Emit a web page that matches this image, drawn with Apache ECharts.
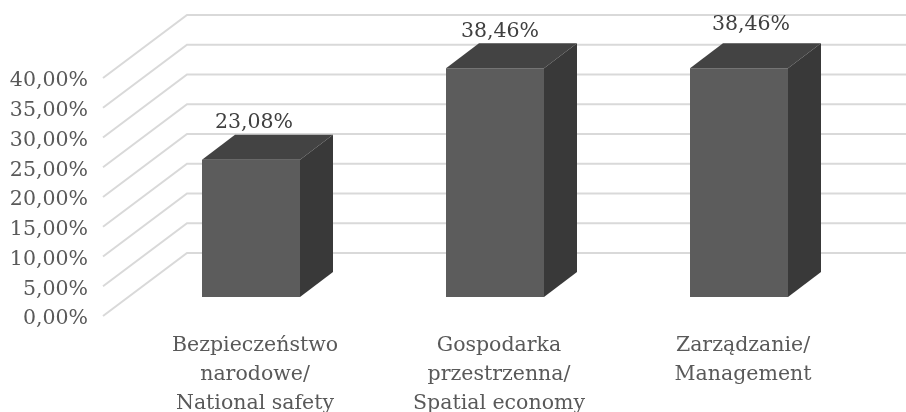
<!DOCTYPE html>
<html><head><meta charset="utf-8">
<style>html,body{margin:0;padding:0;background:#fff}#c{width:906px;height:412px}</style>
<script src="https://cdn.jsdelivr.net/npm/echarts@6/dist/echarts.min.js"></script>
</head><body><div id="c"></div>
<script>
const categories = ['Bezpieczeństwo\nnarodowe/\nNational safety','Gospodarka\nprzestrzenna/\nSpatial economy','Zarządzanie/\nManagement'];
const values = [23.08, 38.46, 38.46];
const valueLabels = ['23,08%','38,46%','38,46%'];
const yTicks = [0,5,10,15,20,25,30,35,40];
const labelNudgeY = [2, 3, -4];
const labelNudgeX = [3, 5, 12];

const FONT = '"DejaVu Serif"';
const WALL = [84, -63], PLANE = [0, -19], DEPTH = [33, -25], BAR_W = 98;
const chart = echarts.init(document.getElementById('c'), null, {renderer:'canvas'});
chart.setOption({
  animation:false,
  backgroundColor:'#fff',
  grid:{left:129,width:732,top:78,height:238,containLabel:false,outerBoundsMode:'none'},
  xAxis:{type:'category',data:categories,axisLine:{show:false},axisTick:{show:false},splitLine:{show:false},
    axisLabel:{interval:0,color:'#595959',fontFamily:FONT,fontSize:20.5,lineHeight:29,margin:15,hideOverlap:false,padding:[0,0,0,8]}},
  yAxis:{type:'value',min:0,max:40,interval:5,axisLine:{show:false},axisTick:{show:false},splitLine:{show:false},
    axisLabel:{color:'#595959',fontFamily:FONT,fontSize:20.5,margin:41,hideOverlap:false,verticalAlign:'top',lineHeight:6,formatter:v=>v.toFixed(2).replace('.',',')+'%'}},
  series:[
    {type:'custom',coordinateSystem:'cartesian2d',z:1,silent:true,clip:false,
     data:yTicks.map(t=>[0,t]),
     renderItem(params,api){
       const p=api.coord([0,api.value(1)]);
       const x0=params.coordSys.x-26;
       return {type:'polyline',shape:{points:[[x0,p[1]],[x0+WALL[0],p[1]+WALL[1]],[906,p[1]+WALL[1]]]},
         style:{stroke:'#d9d9d9',lineWidth:2,fill:null}};
     }},
    {type:'custom',coordinateSystem:'cartesian2d',z:2,silent:true,clip:false,
     data:values.map((v,i)=>[i,v]),
     renderItem(params,api){
       const i=params.dataIndex;
       const top=api.coord([api.value(0),api.value(1)]);
       const base=api.coord([api.value(0),0]);
       const xl=top[0]-BAR_W/2+PLANE[0], xr=xl+BAR_W;
       const yt=top[1]+PLANE[1], yb=base[1]+PLANE[1];
       const dx=DEPTH[0],dy=DEPTH[1];
       return {type:'group',children:[
         {type:'polygon',shape:{points:[[xl,yt],[xr,yt],[xr,yb],[xl,yb]]},style:{fill:'#5c5c5c'}},
         {type:'polygon',shape:{points:[[xl,yt],[xl+dx,yt+dy],[xr+dx,yt+dy],[xr,yt]]},style:{fill:'#434343'}},
         {type:'polygon',shape:{points:[[xr,yt],[xr+dx,yt+dy],[xr+dx,yb+dy],[xr,yb]]},style:{fill:'#393939'}},
         {type:'text',style:{text:valueLabels[i],x:top[0]+labelNudgeX[i],y:yt+dy-14+labelNudgeY[i],
           align:'center',verticalAlign:'middle',fill:'#404040',font:'20.5px '+FONT}}
       ]};
     }}
  ]
});
</script></body></html>
